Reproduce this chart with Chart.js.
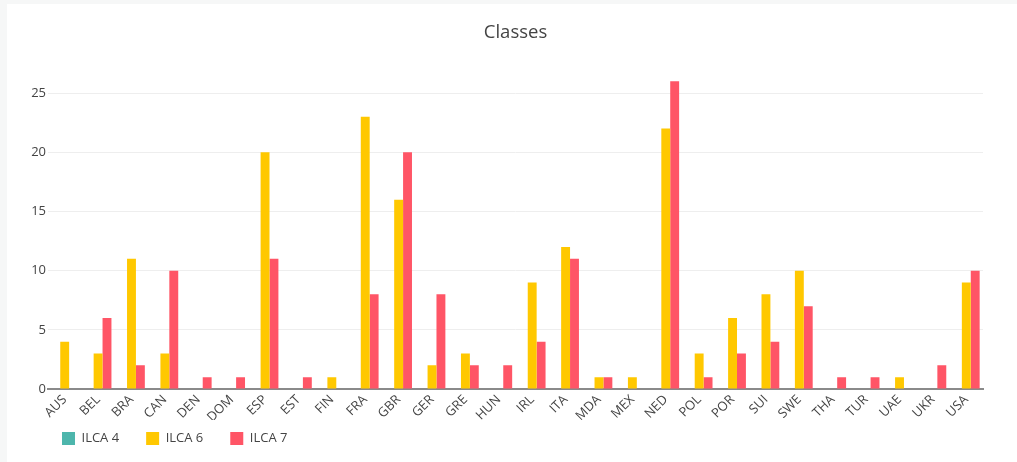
<!DOCTYPE html>
<html>
<head>
<meta charset="utf-8">
<script src="https://cdn.jsdelivr.net/npm/chart.js@4"></script>
<style>
  body { margin: 0; background: #f6f7f7; }
  #wrap { position: absolute; left: 7px; top: 4px; width: 1010px; height: 458px; background: #fff; }
</style>
</head>
<body>
<div id="wrap"><canvas id="chart" width="1010" height="458"></canvas></div>
<script>
const countries = ['AUS', 'BEL', 'BRA', 'CAN', 'DEN', 'DOM', 'ESP', 'EST', 'FIN', 'FRA', 'GBR', 'GER', 'GRE', 'HUN',
    'IRL', 'ITA', 'MDA', 'MEX', 'NED', 'POL', 'POR', 'SUI', 'SWE', 'THA', 'TUR', 'UAE', 'UKR', 'USA'];
const ilca4 = [0, 0, 0, 0, 0, 0, 0, 0, 0, 0, 0, 0, 0, 0, 0, 0, 0, 0, 0, 0, 0, 0, 0, 0, 0, 0, 0, 0];
const ilca6 = [4, 3, 11, 3, 0, 0, 20, 0, 1, 23, 16, 2, 3, 0, 9, 12, 1, 1, 22, 3, 6, 8, 10, 0, 0, 1, 0, 9];
const ilca7 = [0, 6, 2, 10, 1, 1, 11, 1, 0, 8, 20, 8, 2, 2, 4, 11, 1, 0, 26, 1, 3, 4, 7, 1, 1, 0, 2, 10];
const yTicks = [0, 5, 10, 15, 20, 25];

const font = 'Open Sans';

// legend sits under the axis labels, lined up with the plot's left edge
const legendPlace = {
    id: 'legendPlace',
    afterLayout(chart) {
        const l = chart.legend;
        const dy = 401 - l.top;
        l.top += dy;
        l.bottom += dy;
        l.left -= 13;
        l.right -= 13;
    },
};

const chart = new Chart(document.getElementById('chart'), {
    type: 'bar',
    data: {
        labels: countries,
        datasets: [
            { label: 'ILCA 4', data: ilca4, backgroundColor: '#4db6ac' },
            { label: 'ILCA 6', data: ilca6, backgroundColor: '#ffc800' },
            { label: 'ILCA 7', data: ilca7, backgroundColor: '#ff5566' },
        ],
    },
    options: {
        responsive: false,
        devicePixelRatio: 1,
        animation: false,
        layout: { padding: { left: 0, right: 34, top: 0, bottom: -8 } },
        datasets: {
            bar: { categoryPercentage: 0.8, barPercentage: 1.0, borderWidth: 0 },
        },
        scales: {
            x: {
                grid: { display: false, drawTicks: false },
                border: { color: '#8a8a8a', width: 2 },
                ticks: {
                    autoSkip: false,
                    maxRotation: 45,
                    minRotation: 45,
                    padding: 3,
                    color: '#444',
                    font: { family: font, size: 13 },
                },
                afterFit: (s) => { s.height = 31; },
            },
            y: {
                min: 0,
                max: 27.4,
                afterBuildTicks: (s) => { s.ticks = yTicks.map(v => ({ value: v })); },
                grid: { color: '#eeeeee', lineWidth: 1, drawTicks: false },
                border: { display: false },
                ticks: {
                    padding: 2,
                    color: '#444',
                    font: { family: font, size: 13 },
                },
                afterFit: (s) => { s.width = 41; },
            },
        },
        plugins: {
            title: {
                display: true,
                fullSize: false,
                text: 'Classes',
                color: '#444',
                font: { family: font, size: 18.5, weight: 'normal' },
                padding: { top: 18, bottom: 20.5 },
            },
            legend: {
                position: 'bottom',
                align: 'start',
                fullSize: false,
                labels: {
                    boxWidth: 13,
                    boxHeight: 13,
                    padding: 27,
                    color: '#444',
                    font: { family: font, size: 13 },
                },
            },
            tooltip: { enabled: false },
        },
    },
    plugins: [legendPlace],
});
</script>
</body>
</html>
